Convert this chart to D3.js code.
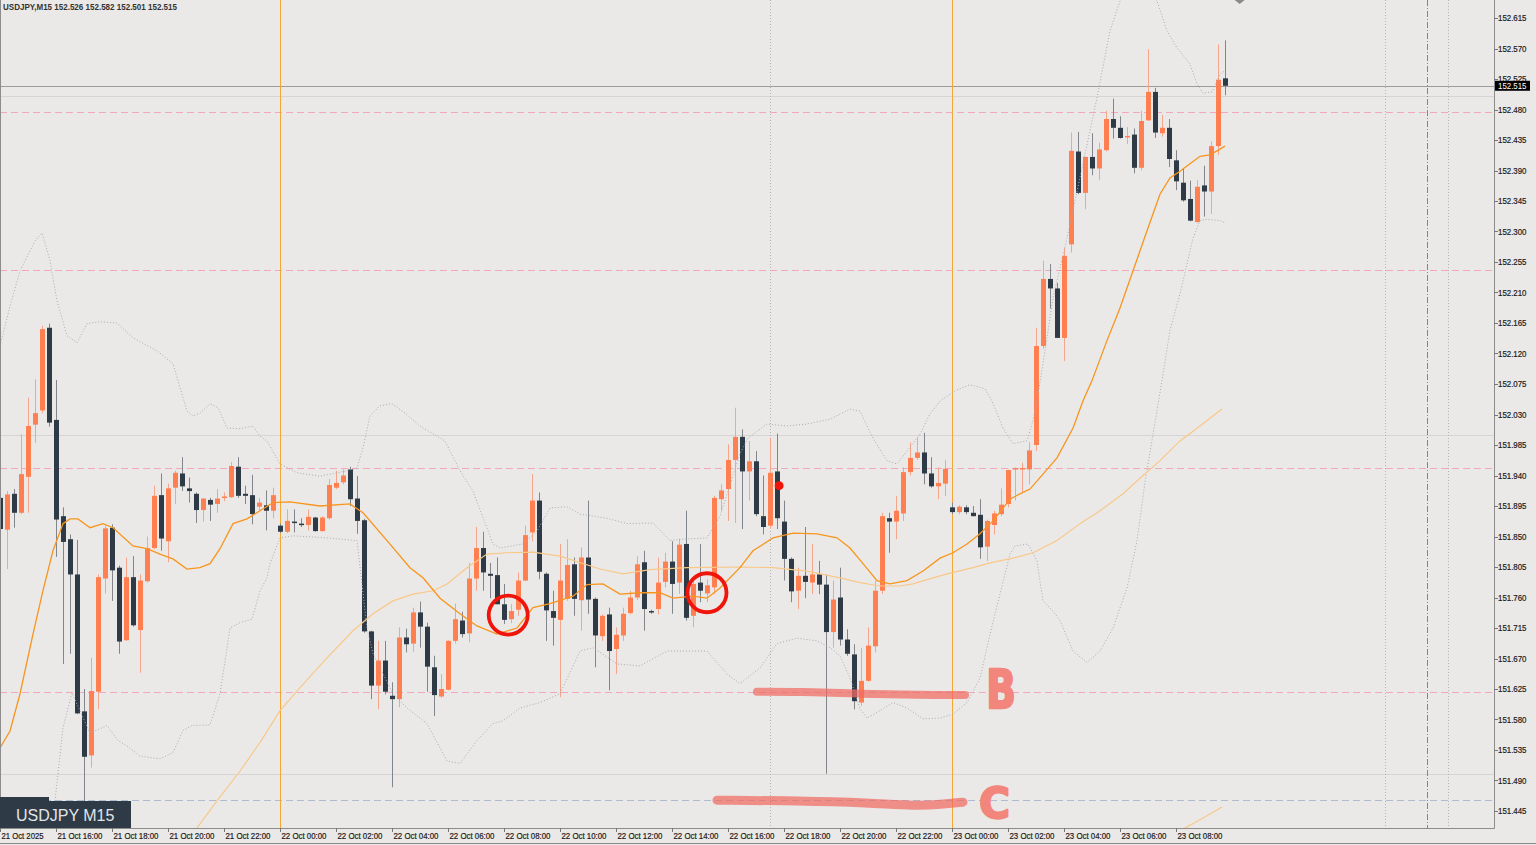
<!DOCTYPE html>
<html>
<head>
<meta charset="utf-8">
<script src="https://cdn.jsdelivr.net/npm/d3@7"></script>
<style>
body { margin: 0; background: #ebe9e7; overflow: hidden; }
svg { display: block; }
</style>
</head>
<body>
<div id="chart"></div>
<script>
var w = 1536, h = 845;
var plotW = 1494, plotH = 828;

// USDJPY M15 bars, 21 Oct 14:00 .. 23 Oct 08:45
var opens = [151.907,151.860,151.913,151.885,151.938,152.015,152.036,152.158,152.022,151.880,
  151.846,151.794,151.592,151.527,151.621,151.788,151.863,151.804,151.697,151.790,
  151.712,151.784,151.833,151.911,151.843,151.922,151.943,151.921,151.913,151.889,
  151.904,151.898,151.907,151.908,151.953,151.913,151.911,151.894,151.896,151.888,
  151.866,151.857,151.872,151.869,151.867,151.878,151.858,151.877,151.922,151.930,
  151.949,151.906,151.874,151.710,151.630,151.667,151.615,151.610,151.701,151.692,
  151.738,151.717,151.657,151.614,151.624,151.696,151.726,151.707,151.788,151.833,
  151.795,151.793,151.750,151.728,151.742,151.785,151.856,151.903,151.795,151.740,
  151.727,151.758,151.809,151.756,151.819,151.758,151.703,151.735,151.684,151.704,
  151.737,151.760,151.812,151.740,151.743,151.783,151.813,151.782,151.839,151.733,
  151.782,151.766,151.775,151.905,151.920,151.963,151.997,151.946,151.961,151.880,
  151.866,151.946,151.872,151.817,151.770,151.792,151.782,151.794,151.779,151.709,
  151.760,151.698,151.676,151.605,151.637,151.688,151.770,151.877,151.872,151.884,
  151.945,151.966,151.974,151.943,151.924,151.928,151.893,151.886,151.893,151.885,
  151.882,151.835,151.867,151.883,151.898,151.949,151.949,151.949,151.985,152.131,
  152.230,152.216,152.143,152.281,152.418,152.357,152.410,152.393,152.420,152.466,
  152.453,152.440,152.443,152.394,152.464,152.506,152.445,152.453,152.405,152.372,
  152.348,152.314,152.368,152.359,152.426,152.526];
var highs = [151.914,151.917,151.920,152.001,152.055,152.082,152.161,152.164,152.081,151.893,
  151.853,151.845,151.625,151.671,151.794,151.866,151.868,151.807,151.819,151.821,
  151.794,151.850,151.925,151.943,151.928,151.947,151.967,151.937,151.915,151.907,
  151.907,151.920,151.915,151.960,151.967,151.925,151.941,151.907,151.918,151.922,
  151.869,151.890,151.890,151.877,151.890,151.879,151.880,151.935,151.947,151.949,
  151.953,151.939,151.876,151.711,151.696,151.696,151.635,151.716,151.714,151.745,
  151.754,151.723,151.674,151.647,151.697,151.751,151.739,151.811,151.864,151.857,
  151.811,151.819,151.780,151.750,151.797,151.866,151.942,151.915,151.797,151.770,
  151.839,151.846,151.819,151.834,151.903,151.760,151.735,151.745,151.716,151.745,
  151.770,151.821,151.829,151.742,151.819,151.826,151.843,151.847,151.888,151.785,
  151.839,151.787,151.910,151.927,151.986,152.040,152.008,151.991,151.976,151.940,
  151.996,152.002,151.903,151.819,151.804,151.864,151.839,151.814,151.794,151.785,
  151.804,151.713,151.691,151.686,151.716,151.785,151.885,151.885,151.910,151.952,
  151.989,151.996,152.003,151.967,151.952,151.963,151.900,151.896,151.896,151.895,
  151.905,151.875,151.888,151.921,151.949,151.952,151.959,151.989,152.158,152.257,
  152.252,152.224,152.276,152.446,152.447,152.410,152.445,152.431,152.478,152.496,
  152.470,152.454,152.452,152.478,152.569,152.512,152.472,152.466,152.420,152.393,
  152.375,152.376,152.397,152.433,152.576,152.582];
var lows = [151.804,151.802,151.863,151.883,151.885,151.988,152.032,152.012,151.820,151.662,
  151.677,151.588,151.457,151.509,151.595,151.766,151.755,151.677,151.696,151.717,
  151.649,151.782,151.831,151.829,151.812,151.898,151.917,151.900,151.870,151.872,
  151.873,151.885,151.902,151.907,151.907,151.898,151.868,151.888,151.859,151.877,
  151.855,151.855,151.856,151.864,151.859,151.857,151.857,151.875,151.920,151.927,
  151.895,151.854,151.708,151.610,151.595,151.617,151.480,151.598,151.679,151.680,
  151.686,151.621,151.585,151.612,151.623,151.692,151.701,151.694,151.770,151.770,
  151.759,151.750,151.721,151.722,151.733,151.784,151.843,151.787,151.696,151.689,
  151.613,151.755,151.733,151.711,151.736,151.657,151.696,151.623,151.647,151.696,
  151.735,151.756,151.711,151.736,151.735,151.775,151.736,151.765,151.726,151.716,
  151.753,151.753,151.765,151.888,151.873,151.870,151.861,151.903,151.880,151.853,
  151.861,151.861,151.785,151.753,151.743,151.759,151.765,151.765,151.500,151.686,
  151.689,151.674,151.595,151.600,151.636,151.679,151.765,151.826,151.846,151.873,
  151.940,151.963,151.927,151.922,151.905,151.910,151.883,151.883,151.883,151.880,
  151.817,151.814,151.853,151.880,151.893,151.903,151.915,151.927,151.976,152.127,
  152.186,152.143,152.109,152.269,152.355,152.333,152.383,152.376,152.418,152.437,
  152.437,152.429,152.386,152.390,152.463,152.438,152.440,152.395,152.361,152.344,
  152.315,152.313,152.322,152.326,152.413,152.501];
var closes = [151.861,151.912,151.885,151.942,152.013,152.032,152.156,152.018,151.875,151.842,
  151.794,151.589,151.525,151.622,151.790,151.862,151.800,151.695,151.790,151.719,
  151.785,151.833,151.910,151.847,151.921,151.944,151.924,151.917,151.889,151.906,
  151.897,151.906,151.909,151.954,151.910,151.910,151.883,151.900,151.888,151.911,
  151.857,151.873,151.870,151.868,151.879,151.858,151.878,151.926,151.929,151.940,
  151.905,151.873,151.710,151.630,151.667,151.621,151.610,151.701,151.691,151.738,
  151.717,151.658,151.616,151.625,151.696,151.728,151.706,151.788,151.833,151.797,
  151.792,151.750,151.727,151.740,151.785,151.852,151.903,151.798,151.741,151.730,
  151.785,151.808,151.758,151.819,151.757,151.704,151.733,151.681,151.705,151.736,
  151.760,151.809,151.743,151.738,151.782,151.813,151.780,151.838,151.730,151.780,
  151.770,151.778,151.907,151.918,151.963,151.997,151.946,151.961,151.883,151.864,
  151.944,151.877,151.817,151.769,151.792,151.783,151.794,151.779,151.709,151.757,
  151.698,151.677,151.607,151.637,151.689,151.770,151.880,151.872,151.888,151.945,
  151.966,151.974,151.943,151.924,151.929,151.950,151.886,151.894,151.886,151.880,
  151.834,151.873,151.884,151.897,151.948,151.951,151.951,151.977,152.131,152.230,
  152.216,152.143,152.264,152.419,152.357,152.410,152.393,152.421,152.466,152.453,
  152.438,152.441,152.394,152.463,152.506,152.446,152.453,152.407,152.374,152.346,
  152.316,152.366,152.359,152.426,152.524,152.515];

// indicator lines: [bar position, price]
var bbUpper = [[-0.1,152.131],[1.33,152.190],[2.76,152.242],[4.9,152.286],[5.9,152.298],[7.04,152.257],
  [8.04,152.198],[9.47,152.146],[10.9,152.136],[12.33,152.164],[14.19,152.167],[16.61,152.165],
  [18.9,152.143],[22.33,152.124],[24.61,152.105],[26.61,152.035],[27.47,152.028],[28.47,152.032],
  [29.9,152.046],[31.04,152.040],[32.33,152.010],[34.19,152.009],[36.04,152.013],[37.04,151.998],
  [38.04,151.991],[39.9,151.957],[42.33,151.944],[45.61,151.939],[49.47,151.947],[50.9,151.951],
  [51.76,151.981],[52.76,152.028],[54.19,152.043],[55.9,152.046],[57.76,152.032],[59.9,152.013],
  [63.47,151.991],[65.61,151.947],[67.47,151.917],[70.33,151.839],[71.33,151.833],[74.61,151.839],
  [76.61,151.858],[78.47,151.892],[80.9,151.894],[82.76,151.883],[86.61,151.877],[89.47,151.869],
  [93.19,151.870],[95.61,151.844],[97.47,151.846],[100.9,151.848],[102.76,151.880],[104.47,151.936],
  [105.61,151.972],[106.76,151.995],[109.47,152.016],[112.33,152.013],[115.19,152.016],[118.47,152.023],
  [121.33,152.038],[122.76,152.035],[124.61,151.995],[126.61,151.962],[128.04,151.957],[129.47,151.976],
  [131.33,152.001],[132.76,152.031],[134.19,152.050],[136.33,152.065],[138.47,152.074],[140.61,152.068],
  [141.61,152.050],[143.19,152.010],[144.61,151.987],[146.61,151.991],[147.47,152.021],[148.04,152.050],
  [149.19,152.124],[150.33,152.202],[152.33,152.290],[154.61,152.400],[156.61,152.497],[158.47,152.596],
  [159.9,152.640],[162.76,152.670],[165.19,152.640],[166.61,152.596],[168.04,152.571],[169.9,152.547],
  [170.9,152.518],[171.76,152.504],[173.04,152.506],[174.19,152.532],[174.9,152.537]];
var bbLower = [[7.33,151.416],[7.76,151.460],[8.9,151.568],[10.19,151.619],[12.76,151.560],[15.19,151.571],
  [16.76,151.549],[18.04,151.541],[19.9,151.526],[22.76,151.522],[24.61,151.531],[26.04,151.564],
  [27.33,151.571],[29.9,151.572],[31.33,151.618],[32.76,151.715],[34.19,151.723],[35.9,151.728],
  [37.04,151.770],[38.04,151.789],[38.47,151.810],[39.9,151.848],[41.76,151.851],[46.61,151.848],
  [50.9,151.844],[52.33,151.715],[53.19,151.677],[56.04,151.618],[58.04,151.597],[60.9,151.574],
  [63.76,151.519],[65.61,151.515],[68.04,151.549],[70.33,151.574],[71.76,151.578],[74.19,151.597],
  [77.04,151.605],[79.9,151.618],[82.76,151.681],[84.61,151.686],[88.04,151.662],[91.33,151.659],
  [95.19,151.681],[100.9,151.681],[103.76,151.647],[105.61,151.633],[108.47,151.656],[110.9,151.692],
  [113.76,151.700],[116.61,151.696],[118.47,151.686],[119.9,151.674],[121.33,151.641],[122.76,151.596],
  [123.76,151.582],[125.61,151.593],[127.47,151.605],[129.47,151.597],[131.76,151.581],[134.19,151.582],
  [136.04,151.588],[138.04,151.605],[139.9,151.641],[141.33,151.706],[142.76,151.765],[144.19,151.824],
  [144.9,151.836],[146.76,151.839],[148.04,151.814],[148.9,151.755],[150.33,151.740],[151.33,151.726],
  [153.19,151.681],[155.19,151.664],[157.04,151.681],[158.9,151.715],[160.9,151.774],[162.33,151.844],
  [163.5,151.932],[165.9,152.080],[167.04,152.154],[168.47,152.208],[169.47,152.252],[170.33,152.290],
  [171.33,152.316],[172.33,152.318],[174.19,152.316],[174.9,152.313]];
var maFast = [[-0.1,151.538],[1.33,151.563],[2.76,151.618],[4.61,151.706],[6.04,151.770],[7.47,151.829],
  [8.9,151.869],[9.9,151.876],[11.04,151.876],[12.76,151.863],[14.61,151.869],[16.04,151.863],
  [18.9,151.836],[20.9,151.832],[22.76,151.824],[24.61,151.817],[26.61,151.802],[28.47,151.804],
  [29.9,151.810],[31.33,151.832],[33.19,151.869],[35.19,151.876],[37.04,151.888],[38.9,151.900],
  [41.33,151.901],[45.61,151.895],[49.9,151.898],[51.76,151.885],[55.19,151.844],[58.47,151.804],
  [60.33,151.789],[62.76,151.759],[65.61,151.736],[68.04,151.718],[70.9,151.706],[73.76,151.715],
  [76.04,151.745],[78.47,151.751],[81.76,151.762],[83.76,151.779],[86.04,151.780],[88.47,151.765],
  [91.33,151.767],[94.19,151.767],[96.04,151.759],[98.9,151.762],[100.9,151.759],[102.76,151.774],
  [105.61,151.804],[107.47,151.829],[110.33,151.848],[113.19,151.855],[116.61,151.854],[119.47,151.848],
  [121.33,151.833],[123.19,151.810],[125.19,151.785],[127.04,151.780],[129.47,151.785],[131.76,151.799],
  [134.19,151.818],[136.04,151.826],[138.04,151.839],[139.9,151.854],[141.76,151.873],[144.19,151.905],
  [145.61,151.913],[147.04,151.920],[148.9,151.942],[150.9,151.966],[153.19,152.010],[154.61,152.050],
  [155.9,152.080],[158.04,152.139],[159.9,152.187],[161.76,152.242],[163.76,152.301],[165.61,152.355],
  [167.04,152.379],[168.47,152.389],[169.9,152.400],[171.33,152.411],[172.76,152.413],[173.76,152.419],
  [174.9,152.426]];
var maSlow = [[27.76,151.416],[30.9,151.460],[34.19,151.504],[37.04,151.546],[39.9,151.593],[42.76,151.627],
  [46.61,151.671],[50.33,151.711],[53.19,151.736],[56.04,151.755],[58.9,151.765],[61.76,151.770],
  [63.76,151.780],[66.61,151.804],[69.47,151.824],[72.33,151.826],[76.04,151.827],[79.9,151.821],
  [85.61,151.802],[88.9,151.795],[92.76,151.801],[98.04,151.804],[105.61,151.805],[110.33,151.804],
  [115.19,151.799],[119.9,151.789],[122.76,151.782],[125.61,151.777],[128.47,151.777],[130.33,151.780],
  [133.19,151.789],[135.61,151.796],[138.9,151.804],[141.33,151.811],[144.61,151.818],[147.47,151.826],
  [150.9,151.844],[154.19,151.869],[157.04,151.888],[160.33,151.913],[162.76,151.936],[165.61,151.962],
  [168.47,151.991],[171.33,152.013],[174.47,152.038]];
var maLong = [[168.47,151.416],[171.33,151.432],[174.47,151.451]];

var priceTicks = [152.615,152.570,152.525,152.480,152.435,152.390,152.345,152.300,152.255,152.210,
  152.165,152.120,152.075,152.030,151.985,151.940,151.895,151.850,151.805,151.760,151.715,151.670,
  151.625,151.580,151.535,151.490,151.445];
var timeLabels = ["21 Oct 2025","21 Oct 16:00","21 Oct 18:00","21 Oct 20:00","21 Oct 22:00",
  "22 Oct 00:00","22 Oct 02:00","22 Oct 04:00","22 Oct 06:00","22 Oct 08:00","22 Oct 10:00",
  "22 Oct 12:00","22 Oct 14:00","22 Oct 16:00","22 Oct 18:00","22 Oct 20:00","22 Oct 22:00",
  "23 Oct 00:00","23 Oct 02:00","23 Oct 04:00","23 Oct 06:00","23 Oct 08:00"];
var barsPerLabel = 8;

var roundLevels = [152.500, 152.000, 151.500];
var pinkLevels = [152.476, 152.243, 151.951, 151.621];
var blueLevels = [151.461];
var bid = 152.515;
var dayStarts = [40, 136];
var dottedBars = [110, 197.8, 206.8];
var dashDotBars = [203.8];

// chart markup
var circles = [[72.5, 151.734], [100.9, 151.767]];
var redDot = [111.2, 151.925];
var lineB = [[108.04,151.621],[114.2,151.621],[122.76,151.618],[131.3,151.616],[137.76,151.616]];
var lineC = [[102.33,151.461],[114.19,151.460],[124.0,151.457],[130.9,151.4525],[134.3,151.455],[137.47,151.458]];
var letters = [["B", 142.9, 151.625], ["C", 142.0, 151.457]];

var x = d3.scaleLinear().domain([0, 175]).range([0.7, 1225.7]);
var y = d3.scaleLinear().domain([151.445, 152.615]).range([811, 18]);

var vis = d3.select("#chart").append("svg").attr("width", w).attr("height", h);
vis.append("rect").attr("width", w).attr("height", h).attr("fill", "#ebe9e7");

vis.append("defs").append("clipPath").attr("id", "plot")
  .append("rect").attr("x", 0).attr("y", 0).attr("width", plotW).attr("height", plotH);

var plot = vis.append("g").attr("clip-path", "url(#plot)");

// level lines
plot.selectAll(".round").data(roundLevels).enter().append("line")
  .attr("x1", 0).attr("x2", plotW)
  .attr("y1", function(d) { return Math.round(y(d)) + 0.5; })
  .attr("y2", function(d) { return Math.round(y(d)) + 0.5; })
  .attr("stroke", "#d7d5d3").attr("stroke-width", 1);

plot.selectAll(".pink").data(pinkLevels).enter().append("line")
  .attr("x1", 0).attr("x2", plotW)
  .attr("y1", function(d) { return Math.round(y(d)) + 0.5; })
  .attr("y2", function(d) { return Math.round(y(d)) + 0.5; })
  .attr("stroke", "#f2a7bd").attr("stroke-dasharray", "7,4");

plot.selectAll(".blue").data(blueLevels).enter().append("line")
  .attr("x1", 0).attr("x2", plotW)
  .attr("y1", function(d) { return Math.round(y(d)) + 0.5; })
  .attr("y2", function(d) { return Math.round(y(d)) + 0.5; })
  .attr("stroke", "#aebbd0").attr("stroke-dasharray", "7,4");

plot.append("line").attr("x1", 0).attr("x2", plotW)
  .attr("y1", Math.round(y(bid)) + 0.5).attr("y2", Math.round(y(bid)) + 0.5)
  .attr("stroke", "#9c9c9c");

// vertical lines
plot.selectAll(".day").data(dayStarts).enter().append("line")
  .attr("x1", function(d) { return Math.floor(x(d)) + 0.5; })
  .attr("x2", function(d) { return Math.floor(x(d)) + 0.5; })
  .attr("y1", 0).attr("y2", plotH)
  .attr("stroke", "#f5a733").attr("stroke-width", 1);

plot.selectAll(".vdot").data(dottedBars).enter().append("line")
  .attr("x1", function(d) { return Math.floor(x(d)) + 0.5; })
  .attr("x2", function(d) { return Math.floor(x(d)) + 0.5; })
  .attr("y1", 0).attr("y2", plotH)
  .attr("stroke", "#b4b4b4").attr("stroke-dasharray", "1,2");

plot.selectAll(".vdash").data(dashDotBars).enter().append("line")
  .attr("x1", function(d) { return Math.floor(x(d)) + 0.5; })
  .attr("x2", function(d) { return Math.floor(x(d)) + 0.5; })
  .attr("y1", 0).attr("y2", plotH)
  .attr("stroke", "#e35d5d").attr("stroke-dasharray", "6,2,1,2");

// candles
var idx = d3.range(opens.length);
var candle = plot.selectAll(".bar").data(idx).enter().append("g");

candle.append("line")
  .attr("x1", function(i) { return Math.floor(x(i)) + 0.5; })
  .attr("x2", function(i) { return Math.floor(x(i)) + 0.5; })
  .attr("y1", function(i) { return y(highs[i]); })
  .attr("y2", function(i) { return y(lows[i]); })
  .attr("stroke", function(i) { return closes[i] >= opens[i] ? "#f5a58b" : "#80868c"; });

candle.append("rect")
  .attr("x", function(i) { return Math.floor(x(i)) - 2; })
  .attr("width", 5)
  .attr("y", function(i) { return y(Math.max(opens[i], closes[i])); })
  .attr("height", function(i) { return Math.max(1.5, Math.abs(y(opens[i]) - y(closes[i]))); })
  .attr("fill", function(i) { return closes[i] >= opens[i] ? "#ff7f50" : "#2e3a46"; });

// indicators
var line = d3.line().x(function(d) { return x(d[0]); }).y(function(d) { return y(d[1]); });

plot.append("path").attr("d", line(bbUpper)).attr("fill", "none")
  .attr("stroke", "#a9a9b8").attr("stroke-dasharray", "1,2");
plot.append("path").attr("d", line(bbLower)).attr("fill", "none")
  .attr("stroke", "#a9a9b8").attr("stroke-dasharray", "1,2");
plot.append("path").attr("d", line(maSlow)).attr("fill", "none")
  .attr("stroke", "#f8c889").attr("stroke-width", 1.2);
plot.append("path").attr("d", line(maLong)).attr("fill", "none")
  .attr("stroke", "#f8c889").attr("stroke-width", 1.2);
plot.append("path").attr("d", line(maFast)).attr("fill", "none")
  .attr("stroke", "#f7951d").attr("stroke-width", 1.3);

// hand markup
var stroke = d3.line().curve(d3.curveBasis).x(function(d) { return x(d[0]); }).y(function(d) { return y(d[1]); });
plot.append("path").attr("d", stroke(lineB)).attr("fill", "none")
  .attr("stroke", "#f06a62").attr("stroke-opacity", 0.72).attr("stroke-width", 8).attr("stroke-linecap", "round");
plot.append("path").attr("d", stroke(lineC)).attr("fill", "none")
  .attr("stroke", "#f06a62").attr("stroke-opacity", 0.72).attr("stroke-width", 9).attr("stroke-linecap", "round");

letters.forEach(function(l) {
  var g = plot.append("g").attr("transform", "translate(" + x(l[1]) + "," + y(l[2]) + ")");
  g.append("text").text(l[0])
    .attr("transform", l[0] == "B" ? "scale(0.72,1)" : "scale(0.95,0.95)")
    .attr("text-anchor", "middle").attr("dy", "0.36em")
    .attr("font-family", "DejaVu Sans").attr("font-weight", "bold")
    .attr("font-size", l[0] == "B" ? 54 : 44)
    .attr("fill", "#f2857c").attr("stroke", "#f2857c").attr("stroke-width", 2.5)
    .attr("stroke-linejoin", "round");
});

plot.selectAll(".circ").data(circles).enter().append("circle")
  .attr("cx", function(d) { return x(d[0]); }).attr("cy", function(d) { return y(d[1]); })
  .attr("r", 19.5).attr("fill", "none").attr("stroke", "#f0150a").attr("stroke-width", 3.8);

plot.append("circle").attr("cx", x(redDot[0])).attr("cy", y(redDot[1])).attr("r", 4.5).attr("fill", "#f0150a");

// top marker
plot.append("path").attr("d", "M" + (x(177) - 5) + ",0L" + (x(177) + 5) + ",0L" + x(177) + ",4Z").attr("fill", "#8a8a8a");

// frame
vis.append("line").attr("x1", plotW + 0.5).attr("x2", plotW + 0.5).attr("y1", 0).attr("y2", plotH + 0.5).attr("stroke", "#8c8c8c");
vis.append("line").attr("x1", 0).attr("x2", plotW + 0.5).attr("y1", plotH + 0.5).attr("y2", plotH + 0.5).attr("stroke", "#8c8c8c");
vis.append("line").attr("x1", 0.5).attr("x2", 0.5).attr("y1", 0).attr("y2", plotH).attr("stroke", "#8c8c8c");
vis.append("line").attr("x1", 0).attr("x2", w).attr("y1", 843.5).attr("y2", 843.5).attr("stroke", "#8a8a8a");

// price axis
var pa = vis.append("g");
pa.selectAll(".pt").data(priceTicks).enter().append("line")
  .attr("x1", plotW).attr("x2", plotW + 4)
  .attr("y1", function(d) { return Math.round(y(d)) + 0.5; })
  .attr("y2", function(d) { return Math.round(y(d)) + 0.5; })
  .attr("stroke", "#777");
pa.selectAll(".pl").data(priceTicks).enter().append("text")
  .attr("x", plotW + 4).attr("y", function(d) { return y(d); }).attr("dy", "0.35em")
  .attr("font-family", "Liberation Sans, Arial").attr("font-size", 9).attr("fill", "#1a1a1a")
  .attr("stroke", "#1a1a1a").attr("stroke-width", 0.2)
  .attr("textLength", 28.5).attr("lengthAdjust", "spacingAndGlyphs")
  .text(function(d) { return d.toFixed(3); });

pa.append("rect").attr("x", plotW + 1).attr("y", y(bid) - 5).attr("width", 35).attr("height", 10).attr("fill", "#000");
pa.append("text").attr("x", plotW + 4).attr("y", y(bid)).attr("dy", "0.36em")
  .attr("font-family", "Liberation Sans, Arial").attr("font-size", 9).attr("fill", "#fff")
  .attr("textLength", 28.5).attr("lengthAdjust", "spacingAndGlyphs")
  .text(bid.toFixed(3));

// time axis
var ta = vis.append("g");
ta.selectAll(".tt").data(timeLabels).enter().append("line")
  .attr("x1", function(d, i) { return Math.floor(x(i * barsPerLabel)) + 0.5; })
  .attr("x2", function(d, i) { return Math.floor(x(i * barsPerLabel)) + 0.5; })
  .attr("y1", plotH).attr("y2", plotH + 4).attr("stroke", "#777");
ta.selectAll(".tl").data(timeLabels).enter().append("text")
  .attr("x", function(d, i) { return Math.floor(x(i * barsPerLabel)) + 1.5; })
  .attr("y", 838.5)
  .attr("font-family", "Liberation Sans, Arial").attr("font-size", 9).attr("fill", "#1a1a1a")
  .attr("stroke", "#1a1a1a").attr("stroke-width", 0.2)
  .attr("textLength", function(d, i) { return i == 0 ? 42 : 45; }).attr("lengthAdjust", "spacingAndGlyphs")
  .text(function(d) { return d; });

// header
vis.append("text").attr("x", 3).attr("y", 10)
  .attr("font-family", "Liberation Sans, Arial").attr("font-size", 9).attr("font-weight", "bold").attr("fill", "#333")
  .attr("textLength", 174).attr("lengthAdjust", "spacingAndGlyphs")
  .text("USDJPY,M15  " + [opens[175], highs[175], lows[175], closes[175]].map(function(v) { return v.toFixed(3); }).join(" "));

// symbol label
vis.append("rect").attr("x", 0).attr("y", 797).attr("width", 49).attr("height", 5).attr("fill", "#2e3a46");
vis.append("rect").attr("x", 0).attr("y", 801).attr("width", 131).attr("height", 27).attr("fill", "#2e3a46");
vis.append("text").attr("x", 16).attr("y", 815).attr("dy", "0.36em")
  .attr("font-family", "Liberation Sans, Arial").attr("font-size", 16).attr("fill", "#e2e5e8")
  .text("USDJPY M15");
</script>
</body>
</html>
